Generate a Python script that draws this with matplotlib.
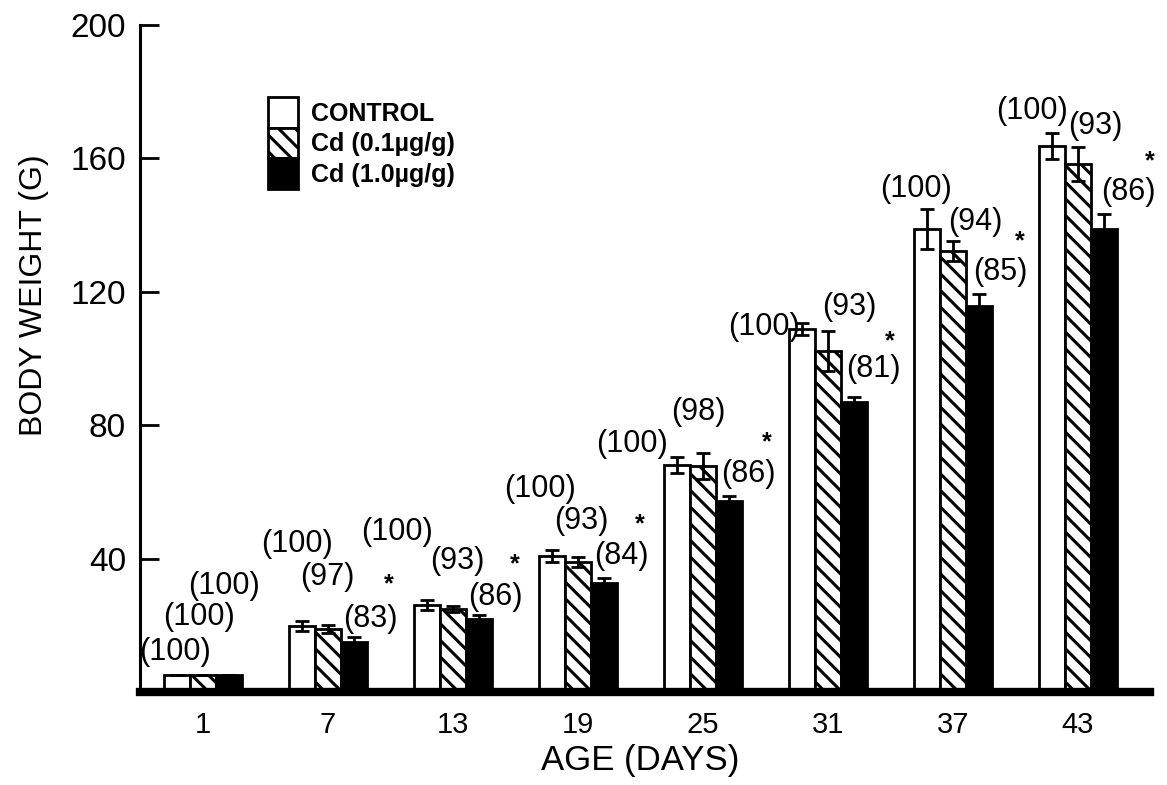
import numpy as np
import matplotlib
matplotlib.use("Agg")
import matplotlib.pyplot as plt

plt.rcParams['font.family'] = ['Liberation Sans', 'DejaVu Sans']
plt.rcParams['hatch.linewidth'] = 2.2

days = ["1", "7", "13", "19", "25", "31", "37", "43"]
series = ["CONTROL", "Cd (0.1µg/g)", "Cd (1.0µg/g)"]

control = [5, 19.8, 26.1, 40.8, 68.1, 108.8, 138.8, 163.7]
cd_low = [5, 18.9, 24.9, 39.0, 67.8, 102.2, 132.2, 158.3]
cd_high = [5, 15.0, 21.9, 32.7, 57.3, 87.0, 115.7, 138.8]

control_err = [0, 1.5, 1.5, 1.8, 2.5, 1.8, 6.0, 4.0]
cd_low_err = [0, 1.2, 1.0, 1.5, 4.0, 6.0, 3.0, 5.0]
cd_high_err = [0, 1.5, 1.2, 1.5, 1.5, 1.5, 3.5, 4.5]

pct_control = [100, 100, 100, 100, 100, 100, 100, 100]
pct_low = [100, 97, 93, 93, 98, 93, 94, 93]
pct_high = [100, 83, 86, 84, 86, 81, 85, 86]
signif = [False, True, True, True, True, True, True, True]

# label offsets in pixels from the top of each error bar
off_control = [(-2, 23), (-5, 77), (-30, 68), (-12, 61), (-45, 13), (-38, -4), (-11, 20), (-20, 22)]
off_low = [(-4, 58), (-1, 48), (4, 45), (3, 36), (-5, 41), (21, 24), (22, 19), (17, 21)]
off_high = [(-5, 89), (16, 18), (16, 18), (17, 22), (19, 22), (19, 28), (21, 22), (24, 22)]
off_star = [(0, 0), (35, 53), (36, 51), (36, 54), (38, 54), (36, 56), (41, 53), (46, 53)]

fig = plt.figure(figsize=(11.67, 7.85), dpi=100)
ax = fig.add_axes([140 / 1167, 1 - 692 / 785, 1010 / 1167, 667 / 785])

x = np.arange(len(days))
w = 0.21

vals = [control, cd_low, cd_high]
errs = [control_err, cd_low_err, cd_high_err]
pcts = [pct_control, pct_low, pct_high]
offs = [off_control, off_low, off_high]
faces = ["white", "white", "black"]
hatches = [None, "\\\\", None]

for i in range(3):
    xi = x + (i - 1) * w
    ax.bar(xi, vals[i], w, color=faces[i], edgecolor="black", linewidth=2,
           hatch=hatches[i], label=series[i], zorder=2)
    ax.errorbar(xi, vals[i], yerr=errs[i], fmt="none", ecolor="black",
                elinewidth=2, capsize=5, capthick=2, zorder=3)
    for j in range(len(days)):
        top = vals[i][j] + errs[i][j]
        ax.annotate("(%d)" % pcts[i][j], xy=(xi[j], top), xytext=offs[i][j],
                    textcoords="offset pixels", ha="center", va="center",
                    fontsize=22)
        if i == 2 and signif[j]:
            ax.annotate("*", xy=(xi[j], top), xytext=off_star[j],
                        textcoords="offset pixels", ha="center", va="center",
                        fontsize=18, fontweight="bold")

ax.set_xlim(-0.504, 7.576)
ax.set_ylim(0, 200)
ax.set_yticks([40, 80, 120, 160, 200])
ax.set_xticks(x)
ax.set_xticklabels(days)
ax.tick_params(axis="y", direction="in", length=14, width=2, labelsize=24, pad=10)
ax.tick_params(axis="x", length=0, labelsize=21, pad=14)

for s in ["top", "right"]:
    ax.spines[s].set_visible(False)
ax.spines["left"].set_linewidth(2.2)
ax.spines["bottom"].set_linewidth(6)

ax.set_ylabel("BODY WEIGHT (G)", fontsize=23)
ax.yaxis.set_label_coords(-0.090, 0.595)
ax.set_xlabel("AGE (DAYS)", fontsize=25)
ax.xaxis.set_label_coords(0.495, -0.078)

ax.legend(loc="upper left", bbox_to_anchor=(0.127, 0.892), frameon=False,
          handlelength=1.2, handleheight=1.5, labelspacing=0,
          handletextpad=0.5, borderpad=0, borderaxespad=0,
          prop={"weight": "bold", "size": 18})

fig.savefig("out.png", dpi=100)
